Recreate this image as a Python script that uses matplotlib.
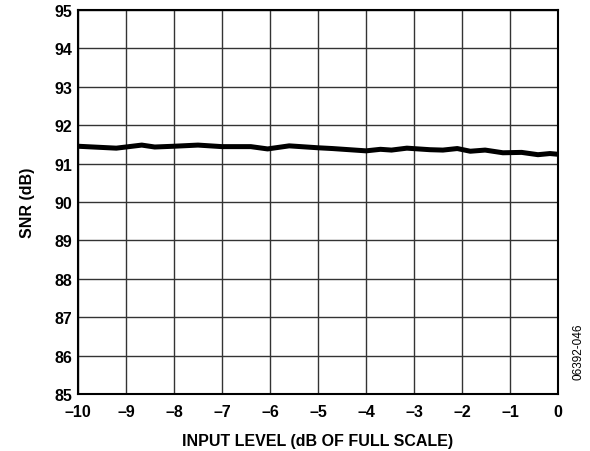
import numpy as np
import matplotlib
matplotlib.use("Agg")
import matplotlib.pyplot as plt

plt.rcParams['font.family'] = ['Liberation Sans', 'DejaVu Sans']

level = [-10, -9.2, -9.0, -8.67, -8.4, -8.0, -7.5, -7.0, -6.4, -6.05, -5.6, -5.0, -4.7,
         -4.0, -3.7, -3.47, -3.15, -2.67, -2.4, -2.1, -1.83, -1.52, -1.15, -0.76,
         -0.42, -0.17, 0]
snr = [91.45, 91.40, 91.43, 91.48, 91.43, 91.45, 91.48, 91.44, 91.44, 91.38, 91.46, 91.41, 91.39,
       91.33, 91.37, 91.35, 91.40, 91.36, 91.35, 91.39, 91.32, 91.35, 91.28, 91.29,
       91.23, 91.26, 91.24]

xticks = list(range(-10, 1))
yticks = list(range(85, 96))

fig = plt.figure(figsize=(5.9, 4.52), dpi=100)
ax = fig.add_axes([0.132, 0.126, 0.814, 0.85])

ax.plot(level, snr, color='black', lw=3.6, solid_capstyle='butt', zorder=3)

ax.set_xlim(-10, 0)
ax.set_ylim(85, 95)
ax.set_xticks(xticks)
ax.set_yticks(yticks)
ax.set_xticklabels([str(t).replace('-', '\u2013') for t in xticks], fontsize=11.5, fontweight='bold')
ax.set_yticklabels([str(t) for t in yticks], fontsize=11.5, fontweight='bold')
ax.tick_params(length=0)
ax.tick_params(axis='x', pad=7)
ax.tick_params(axis='y', pad=4)
ax.grid(True, color='#333333', lw=1.0)
for s in ax.spines.values():
    s.set_linewidth(1.5)
    s.set_color('black')

ax.set_xlabel('INPUT LEVEL (dB OF FULL SCALE)', fontsize=11.5, fontweight='bold', labelpad=10)
ax.set_ylabel('SNR (dB)', fontsize=11.5, fontweight='bold', labelpad=14)

fig.text(0.98, 0.221, '06392-046', rotation=90, fontsize=8.5, ha='center', va='center')

fig.savefig('out.png', dpi=100)
